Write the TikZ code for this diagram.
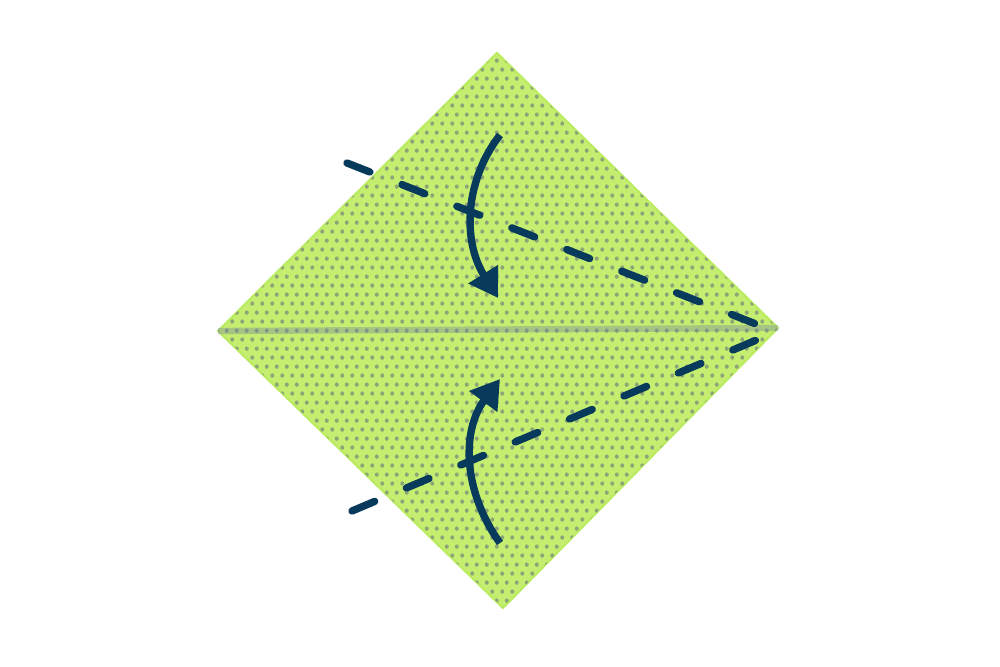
\documentclass[tikz,border=0pt]{standalone}
\usepackage{tikz}
\usetikzlibrary{patterns, arrows.meta}

\definecolor{paper}{RGB}{197,238,112}
\definecolor{paperedge}{RGB}{185,236,95}
\definecolor{dotgrey}{RGB}{140,165,118}
\definecolor{navy}{RGB}{8,58,92}
\definecolor{crease}{RGB}{118,128,160}

\pgfdeclarepatternformonly{paperdots}{\pgfpointorigin}{\pgfpoint{2.85pt}{5.1pt}}{\pgfpoint{2.85pt}{5.1pt}}{
    \pgfpathcircle{\pgfpoint{0.7pt}{1.27pt}}{0.62pt}
    \pgfpathcircle{\pgfpoint{2.12pt}{3.82pt}}{0.62pt}
    \pgfusepath{fill}
}

\tikzset{
    foldline/.style={navy, line width=2.1pt, line cap=round, dash pattern=on 7pt off 9.8pt},
    turn/.style={navy, line width=2.1pt, -{Triangle[length=8pt, width=9.5pt]}}
}

\begin{document}
\begin{tikzpicture}[x=0.1mm, y=-0.1mm]
    \useasboundingbox (0, 0) rectangle (1000, 667);
    \coordinate (top) at (497, 53);
    \coordinate (left) at (218, 331);
    \coordinate (right) at (778, 328);
    \coordinate (bottom) at (503, 608);
    % square paper
    \draw[paperedge, line width=0.6pt, fill=paper] (top) -- (right) -- (bottom) -- (left) -- cycle;
    \fill[pattern=paperdots, pattern color=dotgrey] (top) -- (right) -- (bottom) -- (left) -- cycle;
    \draw[crease, opacity=0.38, line width=1.8pt] (left) -- (right);
    % fold lines
    \coordinate (upstart) at (347, 163);
    \coordinate (upend) at (766, 328);
    \coordinate (lowstart) at (352, 511);
    \coordinate (lowend) at (766, 336);
    \draw[foldline] (upstart) -- (upend);
    \draw[foldline] (lowstart) -- (lowend);
    % arrows
    \coordinate (upfrom) at (500, 135);
    \coordinate (upto) at (498, 298);
    \coordinate (lowfrom) at (500, 543);
    \coordinate (lowto) at (500, 379);
    \draw[turn] (upfrom) .. controls (465, 180) and (462, 240) .. (upto);
    \draw[turn] (lowfrom) .. controls (462, 490) and (462, 430) .. (lowto);
\end{tikzpicture}
\end{document}
